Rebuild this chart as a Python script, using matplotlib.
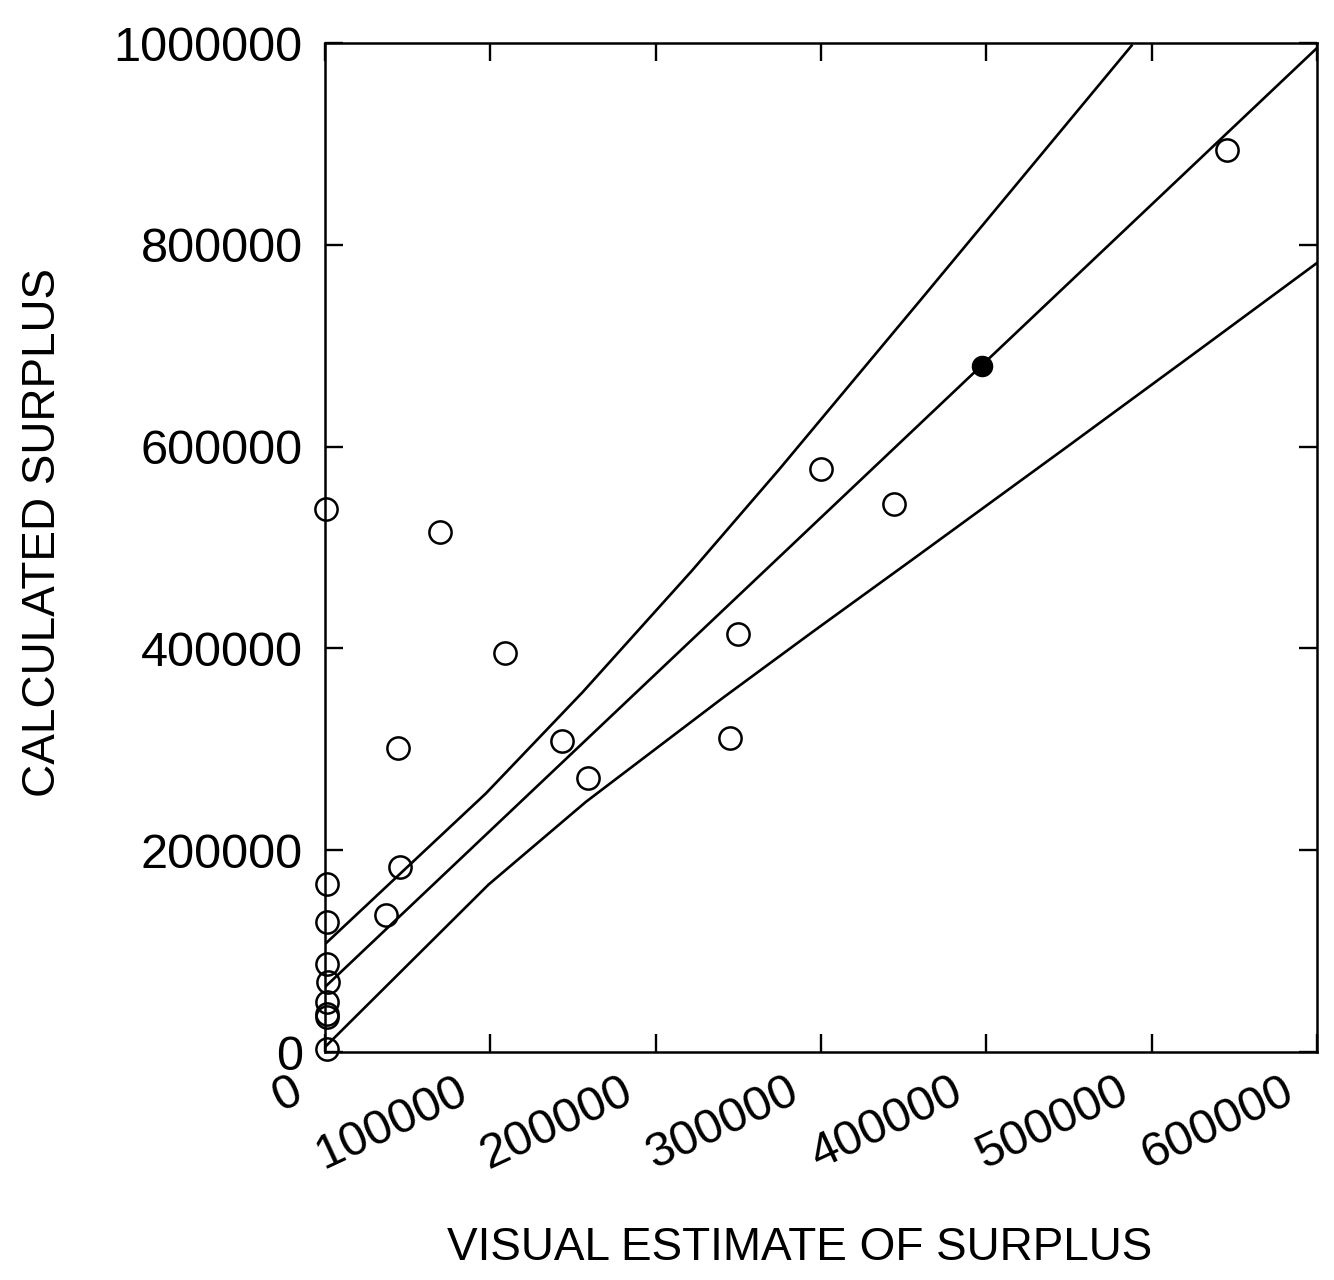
import matplotlib
matplotlib.use("Agg")
import matplotlib.pyplot as plt
from matplotlib.transforms import ScaledTranslation

plt.rcParams['font.family'] = ['Liberation Sans', 'DejaVu Sans']

# visual estimate vs calculated surplus
est_surplus = [1000, 1200, 1200, 1500, 1800, 1500, 1400, 1300,
               36800, 45600, 800, 69400, 108900, 44200, 143600,
               159300, 244800, 249600, 299800, 343900, 545800]
calc_surplus = [3000, 34700, 37700, 49600, 69400, 87200, 128800, 166400,
                136200, 183000, 538700, 515700, 395600, 301800, 307900,
                271900, 311100, 414300, 577700, 542900, 893800]

# highlighted case
hi_est = [397600]
hi_calc = [679800]

# fitted line and its upper / lower bands
fit_x = [0, 600000]
fit_y = [64500, 995000]
upper_x = [0, 97400, 156000, 221900, 274500, 361400, 487900]
upper_y = [107000, 256500, 357000, 477000, 577000, 747600, 997400]
lower_x = [0, 98900, 157800, 240600, 295400, 356900, 449000, 528000, 600000]
lower_y = [5000, 166000, 248000, 351000, 417000, 490000, 600000, 695000, 782000]

x_ticks = [0, 100000, 200000, 300000, 400000, 500000, 600000]
y_ticks = [0, 200000, 400000, 600000, 800000, 1000000]

fig = plt.figure(figsize=(13.34, 12.8), dpi=100)
ax = fig.add_axes([0.2436, 0.178, 0.7436, 0.7884])

ax.plot(fit_x, fit_y, color='black', lw=1.9)
ax.plot(upper_x, upper_y, color='black', lw=1.9)
ax.plot(lower_x, lower_y, color='black', lw=1.9)

ax.plot(est_surplus, calc_surplus, 'o', ms=16, mfc='none', mec='black',
        mew=1.8, clip_on=False, zorder=3)
ax.plot(hi_est, hi_calc, 'o', ms=14.5, color='black', zorder=3)

ax.set_xlim(0, 600000)
ax.set_ylim(0, 1000000)

ax.set_xticks(x_ticks)
ax.set_xticklabels([str(v) for v in x_ticks], rotation=25, ha='right',
                   va='top', rotation_mode='anchor')
ax.set_yticks(y_ticks)
ax.set_yticklabels([str(v) for v in y_ticks])

ax.tick_params(direction='in', length=13, width=1.7, labelsize=35,
               top=True, right=True)
ax.tick_params(axis='y', pad=16)
ax.tick_params(axis='x', pad=12)
for s in ax.spines.values():
    s.set_linewidth(1.8)

# slant labels sit a little left of their ticks
shift = ScaledTranslation(-0.35, 0, fig.dpi_scale_trans)
for lab in ax.get_xticklabels():
    lab.set_transform(lab.get_transform() + shift)

ax.set_xlabel('VISUAL ESTIMATE OF SURPLUS', fontsize=33)
ax.set_ylabel('CALCULATED SURPLUS', fontsize=33)
ax.xaxis.set_label_coords(0.479, -0.172)
ax.yaxis.set_label_coords(-0.262, 0.515)

fig.savefig('out.png', dpi=100, facecolor='white')
